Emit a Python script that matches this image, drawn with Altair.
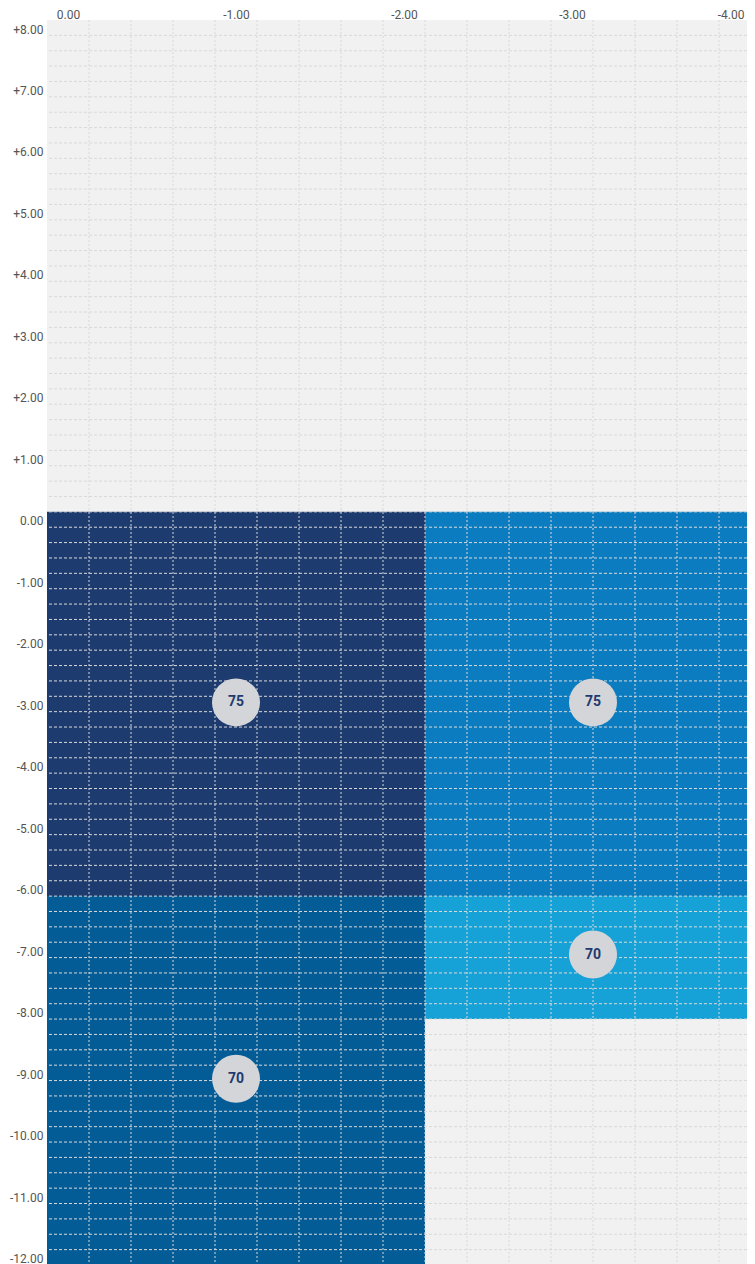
import altair as alt
import pandas as pd

# ---- data -----------------------------------------------------------
cell_names = ["A-upper", "A-lower", "B-upper", "B-lower"]
cell_x = [0.0, 0.0, -2.25, -2.25]
cell_x2 = [-2.25, -2.25, -4.25, -4.25]
cell_y = [0.0, -6.25, 0.0, -6.25]
cell_y2 = [-6.25, -12.25, -6.25, -8.25]
cell_colors = ["#1d3b6f", "#045c97", "#0b7cbf", "#16a2d7"]

bubble_x = [-1.125, -3.25, -3.25, -1.125]
bubble_y = [-3.1, -3.1, -7.2, -9.22]
bubble_label = ["75", "75", "70", "70"]

x_ticks = [0, -1, -2, -3, -4]
y_ticks = [8, 7, 6, 5, 4, 3, 2, 1, 0, -1, -2, -3, -4, -5, -6, -7, -8, -9, -10, -11, -12]

PX_PER_X = 168.0
PLOT_W = 700
PLOT_H = 1245
x_domain = [0, -PLOT_W / PX_PER_X]
y_domain = [-12.25, 8]
grid_step = 0.25
x_grid = [-grid_step * i for i in range(1, 17)]
y_grid = [8 - grid_step * i for i in range(1, 82)]

FONT = "Roboto, DejaVu Sans Condensed, sans-serif"
LABEL_COLOR = "#555555"
GRID_COLOR = "#d9d9d9"

cells_df = pd.DataFrame({"cell": cell_names, "x": cell_x, "x2": cell_x2,
                         "y": cell_y, "y2": cell_y2})
bubbles_df = pd.DataFrame({"x": bubble_x, "y": bubble_y, "label": bubble_label})
hgrid_df = pd.DataFrame({"y": y_grid})
vgrid_df = pd.DataFrame({"x": x_grid})

x_scale = alt.Scale(domain=x_domain, nice=False, zero=False)
y_scale = alt.Scale(domain=y_domain, nice=False, zero=False)

num_expr = ("datum.value > 0 ? '+' + format(datum.value, '.2f') : "
            "(datum.value < 0 ? '-' + format(-datum.value, '.2f') : format(0, '.2f'))")
x_num_expr = ("datum.value < 0 ? '-' + format(-datum.value, '.2f') : format(0, '.2f')")

x_axis = alt.Axis(orient="top", values=x_ticks, labelExpr=x_num_expr, grid=False,
                  ticks=False, domain=False, labelFont=FONT, labelFontSize=12,
                  labelColor=LABEL_COLOR, labelPadding=2,
                  labelBaseline="alphabetic",
                  labelAlign={"condition": {"test": "datum.value <= -4", "value": "right"},
                              "value": "center"},
                  labelOffset={"condition": {"test": "datum.value <= -4", "value": 25},
                               "value": 21},
                  labelFlush=False, labelOverlap=False,
                  title=None)
y_axis = alt.Axis(values=y_ticks, labelExpr=num_expr,
                  grid=False, ticks=False, domain=False, labelFont=FONT,
                  labelFontSize=12, labelColor=LABEL_COLOR, labelAlign="right",
                  labelBaseline="alphabetic", labelOffset=13, labelPadding=4,
                  labelOverlap=False, title=None)

X = alt.X("x:Q", scale=x_scale, axis=x_axis)
Y = alt.Y("y:Q", scale=y_scale, axis=y_axis)

cells = alt.Chart(cells_df).mark_rect(clip=True).encode(
    x=X, x2="x2:Q", y=Y, y2="y2:Q",
    color=alt.Color("cell:N", scale=alt.Scale(domain=cell_names, range=cell_colors),
                    legend=None),
)

hgrid = alt.Chart(hgrid_df).mark_rule(
    color=GRID_COLOR, strokeWidth=1, strokeDash=[3, 2], clip=True
).encode(y=Y)

vgrid = alt.Chart(vgrid_df).mark_rule(
    color=GRID_COLOR, strokeWidth=1, strokeDash=[2, 2], clip=True
).encode(x=X)

circles = alt.Chart(bubbles_df).mark_circle(size=2304, color="#d4d5d8", opacity=1).encode(
    x=X, y=Y,
)

texts = alt.Chart(bubbles_df).mark_text(
    font=FONT, fontSize=14, fontWeight="bold", color="#1d3b6f",
    align="center", baseline="middle"
).encode(x=X, y=Y, text="label:N")

chart = alt.layer(cells, hgrid, vgrid, circles, texts).properties(
    width=PLOT_W, height=PLOT_H,
    autosize=alt.AutoSizeParams(type="none"),
    padding={"left": 39, "top": 12, "right": 0, "bottom": 0},
).configure_view(fill="#f1f1f1", stroke=None)

chart.save("out.html", embed_options={"renderer": "svg", "actions": False})
